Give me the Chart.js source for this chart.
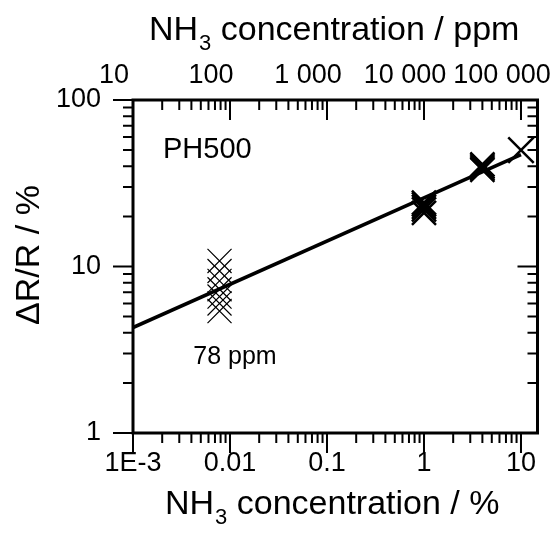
<!DOCTYPE html>
<html>
<head>
<meta charset="utf-8">
<script src="https://cdn.jsdelivr.net/npm/chart.js@4.4.1/dist/chart.umd.min.js"></script>
<style>
  html, body { margin: 0; padding: 0; background: #fff; }
  canvas { display: block; }
</style>
</head>
<body>
<canvas id="sensorChart" width="558" height="545" style="width:558px;height:545px"></canvas>
<script>
// axis ranges (NH3 concentration in %, response in %)
const xMin = 1e-3;
const xMax = 14.8;
const ppmPerPercent = 10000;
const yMin = 1;
const yMax = 100;

// tick labels
const bottomTicks  = [0.001, 0.01, 0.1, 1, 10];
const bottomLabels = ["1E-3", "0.01", "0.1", "1", "10"];
const topTicks     = [10, 100, 1000, 10000, 100000];
const topLabels    = ["10", "100", "1 000", "10 000", "100 000"];
const leftTicks    = [1, 10, 100];
const leftLabels   = ["1", "10", "100"];

// measurements
const conc78ppm = 0.0078;
const resp78ppm = [10.8, 9.4, 8.2, 7.3, 6.6, 6.0, 5.4];
const conc1pct  = 1;
const resp1pct  = [21.0, 22.0, 22.8, 23.6, 24.2];
const conc4pct  = 4;
const resp4pct  = [38, 39, 40, 41];
const conc10pct = 10;
const resp10pct = [50];

// fitted line
const fitConc = [0.001, 10];
const fitResp = [4.3, 47];

const FONT = "'Liberation Sans', Arial, sans-serif";

const pts = (x, ys) => ys.map(y => ({ x: x, y: y }));

// no extra room for overhanging tick labels
const noPad = s => { s.paddingLeft = 0; s.paddingRight = 0; s.paddingTop = 0; s.paddingBottom = 0; };

// tick marks, frame and texts
const axisDecor = {
    id: "axisDecor",
    afterDraw(chart) {
        const { ctx, chartArea: a, scales } = chart;
        ctx.save();
        ctx.strokeStyle = "#000";
        ctx.lineCap = "butt";

        const each = (min, max, fn) => {
            for (let d = Math.floor(Math.log10(min)); d <= Math.ceil(Math.log10(max)); d++) {
                for (let k = 1; k <= 9; k++) {
                    const v = k * Math.pow(10, d);
                    if (v < min * 0.999 || v > max * 1.001) continue;
                    fn(v, k === 1 ? 20 : 10);
                }
            }
        };

        ctx.lineWidth = 2;
        ctx.beginPath();
        each(scales.x.min, scales.x.max, (v, len) => {
            const px = scales.x.getPixelForValue(v);
            ctx.moveTo(px, a.bottom); ctx.lineTo(px, a.bottom + len);
        });
        each(scales.x2.min, scales.x2.max, (v, len) => {
            const px = scales.x2.getPixelForValue(v);
            ctx.moveTo(px, a.top); ctx.lineTo(px, a.top + len);
        });
        each(scales.y.min, scales.y.max, (v, len) => {
            const py = scales.y.getPixelForValue(v);
            ctx.moveTo(a.left - len, py); ctx.lineTo(a.left, py);
        });
        each(scales.y2.min, scales.y2.max, (v, len) => {
            const py = scales.y2.getPixelForValue(v);
            ctx.moveTo(a.right - len, py); ctx.lineTo(a.right, py);
        });
        ctx.stroke();

        ctx.lineWidth = 3;
        ctx.strokeRect(a.left, a.top, a.right - a.left, a.bottom - a.top);

        // texts
        ctx.fillStyle = "#000";
        ctx.textBaseline = "alphabetic";
        const subTitle = (x, y, tail) => {
            ctx.font = "34px " + FONT;
            ctx.textAlign = "left";
            ctx.fillText("NH", x, y);
            let w = ctx.measureText("NH").width;
            ctx.font = "22px " + FONT;
            ctx.fillText("3", x + w + 1, y + 10);
            w += ctx.measureText("3").width + 1;
            ctx.font = "34px " + FONT;
            ctx.fillText(tail, x + w, y);
        };
        subTitle(149, 40, " concentration / ppm");
        subTitle(165, 514, " concentration / %");

        ctx.save();
        ctx.translate(30, 255);
        ctx.rotate(-Math.PI / 2);
        ctx.font = "34px " + FONT;
        ctx.textAlign = "center";
        ctx.textBaseline = "middle";
        ctx.fillText("\u0394R/R / %", 0, 0);
        ctx.restore();

        ctx.font = "29px " + FONT;
        ctx.textAlign = "left";
        ctx.fillText("PH500", 163, 158);

        ctx.font = "25px " + FONT;
        ctx.textAlign = "center";
        ctx.fillText("78 ppm", 235, 364);

        ctx.restore();
    }
};

const tickFont = { family: FONT, size: 27 };

new Chart(document.getElementById("sensorChart"), {
    type: "scatter",
    data: {
        datasets: [
            {
                label: "fit",
                data: fitConc.map((x, i) => ({ x: x, y: fitResp[i] })),
                showLine: true,
                borderColor: "#000",
                borderWidth: 3.5,
                pointRadius: 0
            },
            {
                label: "78 ppm",
                data: pts(conc78ppm, resp78ppm),
                pointStyle: "crossRot",
                pointRadius: 17,
                borderColor: "#000",
                borderWidth: 1.2
            },
            {
                label: "1 %",
                data: pts(conc1pct, resp1pct),
                pointStyle: "crossRot",
                pointRadius: 17,
                borderColor: "#000",
                borderWidth: 2.5
            },
            {
                label: "4 %",
                data: pts(conc4pct, resp4pct),
                pointStyle: "crossRot",
                pointRadius: 17,
                borderColor: "#000",
                borderWidth: 2.5
            },
            {
                label: "10 %",
                data: pts(conc10pct, resp10pct),
                pointStyle: "crossRot",
                pointRadius: 18,
                borderColor: "#000",
                borderWidth: 2.5
            }
        ]
    },
    options: {
        responsive: false,
        animation: false,
        devicePixelRatio: 1,
        layout: { padding: 0 },
        plugins: {
            legend: { display: false },
            tooltip: { enabled: false }
        },
        scales: {
            x: {
                type: "logarithmic",
                position: "bottom",
                min: xMin,
                max: xMax,
                afterBuildTicks: s => { s.ticks = bottomTicks.map(v => ({ value: v })); },
                afterFit: s => { s.height = 112; noPad(s); },
                ticks: {
                    callback: (v, i) => bottomLabels[i],
                    color: "#000",
                    font: tickFont,
                    padding: 14,
                    autoSkip: false,
                    maxRotation: 0
                },
                grid: { display: false, drawTicks: false },
                border: { display: false }
            },
            x2: {
                type: "logarithmic",
                position: "top",
                min: xMin * ppmPerPercent,
                max: xMax * ppmPerPercent,
                afterBuildTicks: s => { s.ticks = topTicks.map(v => ({ value: v })); },
                afterFit: s => { s.height = 100; noPad(s); },
                ticks: {
                    callback: (v, i) => topLabels[i],
                    color: "#000",
                    font: tickFont,
                    padding: 8,
                    labelOffset: -19,
                    autoSkip: false,
                    maxRotation: 0
                },
                grid: { display: false, drawTicks: false },
                border: { display: false }
            },
            y: {
                type: "logarithmic",
                position: "left",
                min: yMin,
                max: yMax,
                afterBuildTicks: s => { s.ticks = leftTicks.map(v => ({ value: v })); },
                afterFit: s => { s.width = 133; noPad(s); },
                ticks: {
                    callback: (v, i) => leftLabels[i],
                    color: "#000",
                    font: tickFont,
                    padding: 32
                },
                grid: { display: false, drawTicks: false },
                border: { display: false }
            },
            y2: {
                type: "logarithmic",
                position: "right",
                min: yMin,
                max: yMax,
                afterFit: s => { s.width = 20; noPad(s); },
                ticks: { display: false },
                grid: { display: false, drawTicks: false },
                border: { display: false }
            }
        }
    },
    plugins: [axisDecor]
});
</script>
</body>
</html>
